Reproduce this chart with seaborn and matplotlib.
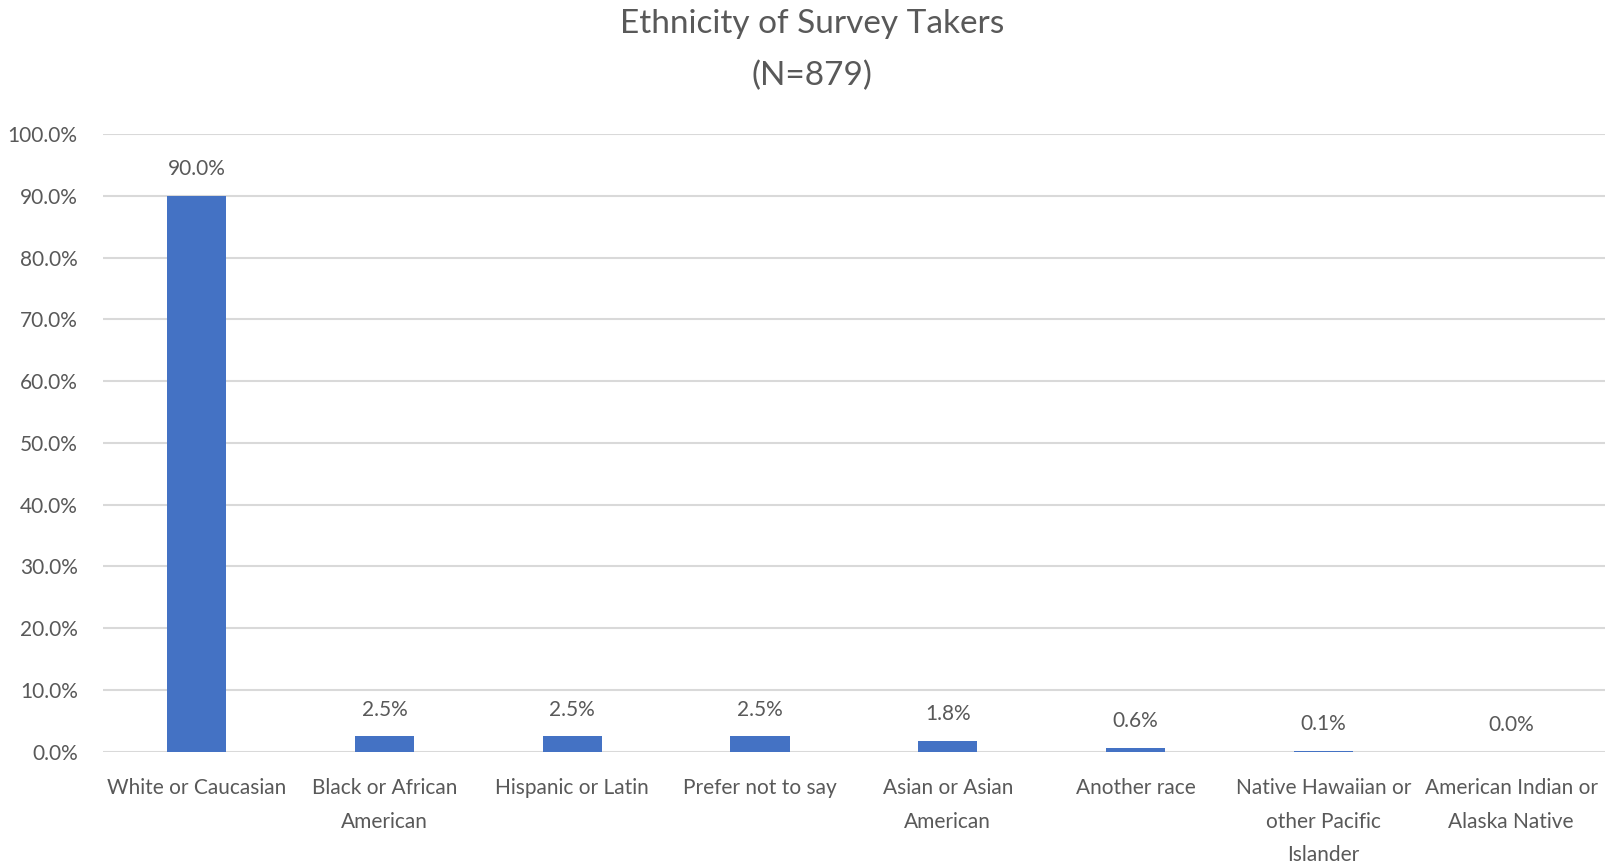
import matplotlib
matplotlib.use("Agg")
import matplotlib.pyplot as plt
import seaborn as sns
import pandas as pd

categories = ["White or Caucasian", "Black or African\nAmerican", "Hispanic or Latin",
              "Prefer not to say", "Asian or Asian\nAmerican", "Another race",
              "Native Hawaiian or\nother Pacific\nIslander", "American Indian or\nAlaska Native"]
values = [90.0, 2.5, 2.5, 2.5, 1.8, 0.6, 0.1, 0.0]
yticks = [0, 10, 20, 30, 40, 50, 60, 70, 80, 90, 100]

sns.set_theme(style="white")
plt.rcParams['font.family'] = ['Lato', 'DejaVu Sans']
grey = "#595959"

df = pd.DataFrame({"cat": categories, "val": values})
fig = plt.figure(figsize=(16.05, 8.65), dpi=100)
ax = fig.add_axes([0.064, 0.131, 0.936, 0.714])
sns.barplot(data=df, x="cat", y="val", color="#4472C4", width=0.315, ax=ax,
            saturation=1, zorder=3, linewidth=0, edgecolor="none")
ax.set_ylim(0, 100)
ax.set_yticks(yticks)
ax.set_yticklabels([f"{t:.1f}%" for t in yticks], fontsize=15, color=grey)
ax.set_xlim(-0.5, len(categories) - 0.5)
ax.tick_params(axis="x", labelsize=15, colors=grey, pad=19, length=0)
ax.tick_params(axis="y", length=0, pad=18)
for lbl in ax.get_xticklabels():
    lbl.set_linespacing(1.85)
ax.grid(axis="y", color="#D9D9D9", linewidth=1.5, zorder=0)
for s in ax.spines.values():
    s.set_visible(False)
ax.set_xlabel("")
ax.set_ylabel("")
for cont in ax.containers:
    ax.bar_label(cont, labels=[f"{v:.1f}%" for v in values], padding=12,
                 fontsize=15, color=grey)
fig.text(0.506, 0.99, "Ethnicity of Survey Takers\n(N=879)", ha="center", va="top",
         fontsize=24, color=grey, linespacing=1.9)
fig.savefig("out.png", dpi=100)
